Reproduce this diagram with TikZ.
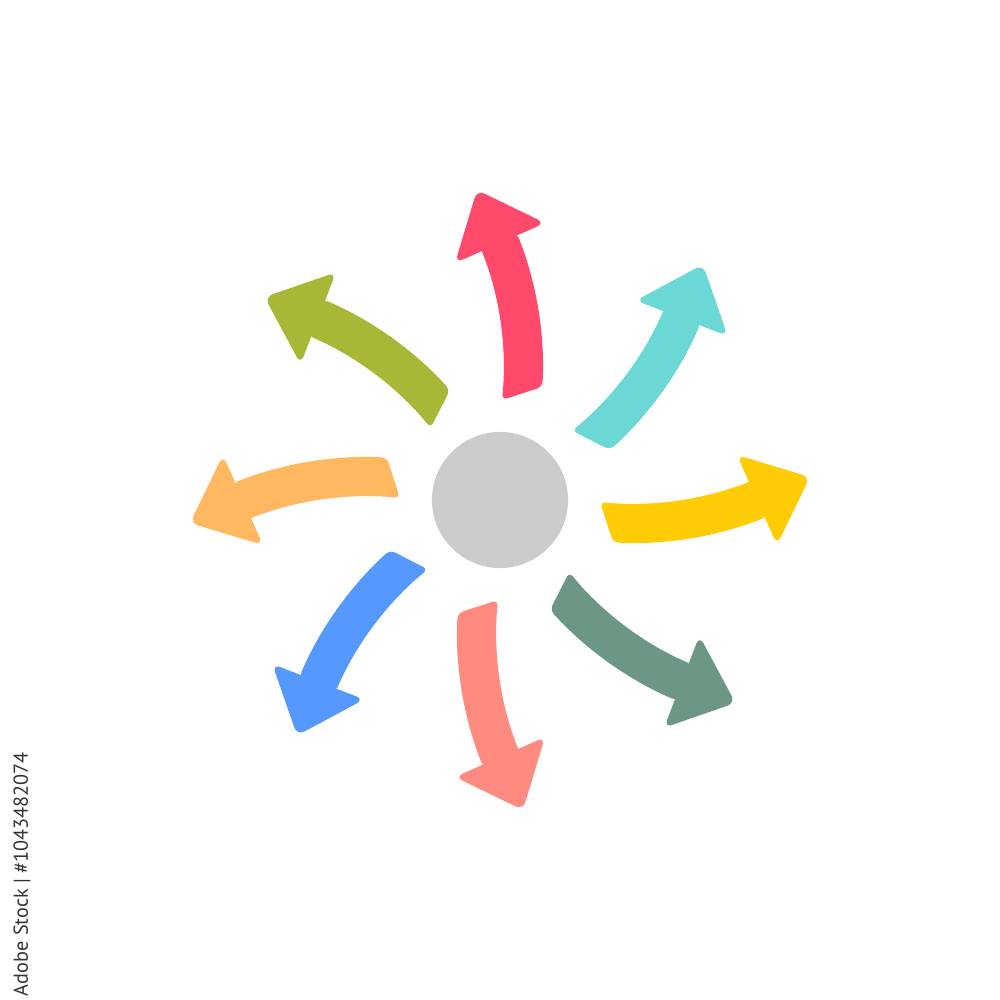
\documentclass[tikz,border=0pt]{standalone}
\usepackage{fontspec}
\usepackage{tikz}
\usetikzlibrary{positioning}
\newfontfamily\stockfont{PT Sans}
\definecolor{spyellow}{RGB}{255,204,5}
\definecolor{spteal}{RGB}{108,216,214}
\definecolor{spred}{RGB}{255,74,108}
\definecolor{spolive}{RGB}{169,183,54}
\definecolor{sporange}{RGB}{255,184,95}
\definecolor{spblue}{RGB}{85,153,255}
\definecolor{spsalmon}{RGB}{255,138,128}
\definecolor{spsea}{RGB}{108,151,132}
\definecolor{hubgray}{RGB}{204,202,204}
\tikzstyle{shaft} = [rounded corners=1.6pt]
\tikzstyle{arrowhead} = [rounded corners=2.4pt]
\tikzstyle{hub} = [circle, fill=hubgray, minimum size=1.36cm, inner sep=0pt]
\tikzstyle{stockid} = [font=\stockfont\fontsize{5.75}{7}\selectfont, text=black!80, rotate=90, inner sep=0pt]

\begin{document}
\begin{tikzpicture}[x=0.01cm, y=0.01cm]
\useasboundingbox (-500,-500) rectangle (500,500);
% Centre
\node (hub) [hub] at (0,0) {};

% Curved arrows, one every 45 degrees
\foreach \ang/\col in {0/spyellow, 45/spteal, 90/spred, 135/spolive, 180/sporange, 225/spblue, 270/spsalmon, 315/spsea} {
  \begin{scope}[rotate=\ang]
    \fill[shaft, \col] (100,-2) arc[start angle=264.3, end angle=292, radius=323]
      -- ++(14.6,-36.4) arc[start angle=292, end angle=267, radius=362] -- cycle;
    \fill[arrowhead, \col] (237,45) -- (310,23) -- (277,-45) -- cycle;
  \end{scope}
}

% Side label
\node (stock) [stockid] at (-478,-374) {Adobe Stock | \#1043482074};
\end{tikzpicture}
\end{document}
